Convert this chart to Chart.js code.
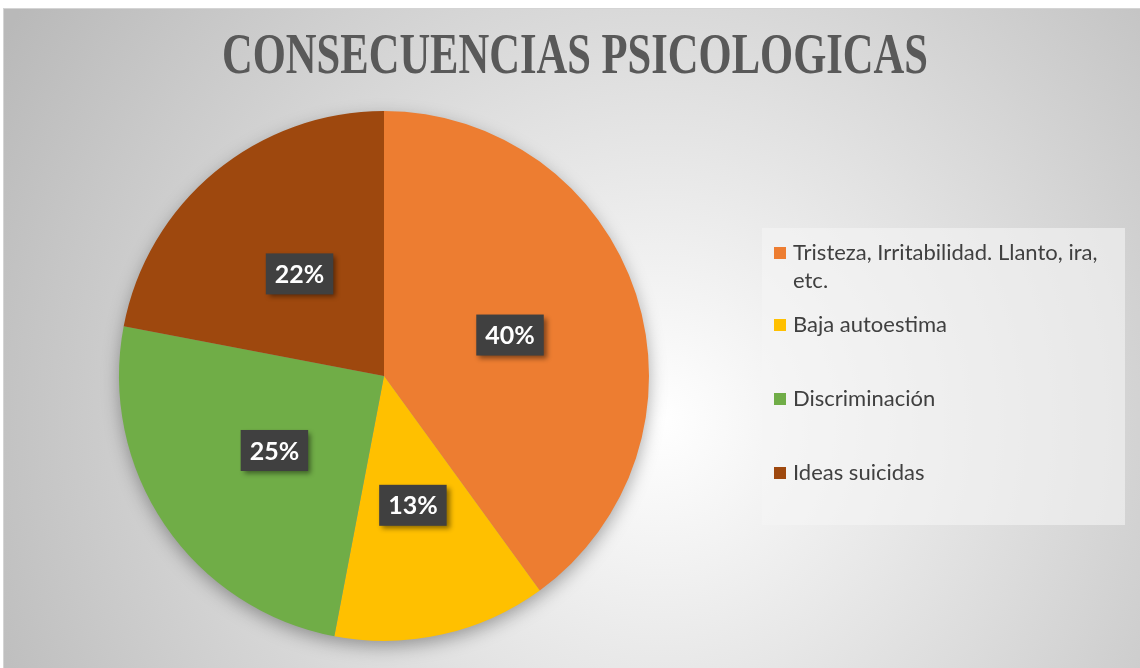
<!DOCTYPE html>
<html>
<head>
<meta charset="utf-8">
<script src="https://cdn.jsdelivr.net/npm/chart.js@4.4.1/dist/chart.umd.min.js"></script>
<style>
  html, body { margin: 0; padding: 0; background: #fff; }
  #wrap { width: 1140px; height: 668px; }
</style>
</head>
<body>
<div id="wrap"><canvas id="pieChart" width="1140" height="668"></canvas></div>
<script>
// data
const chartTitle = 'CONSECUENCIAS PSICOLOGICAS';
const labels = ['Tristeza, Irritabilidad. Llanto, ira, etc.', 'Baja autoestima', 'Discriminación', 'Ideas suicidas'];
const values = [40, 13, 25, 22];
const colors = ['#ED7D31', '#FFC000', '#70AD47', '#9E480E'];

/**
 * background, title, shadow, labels and legend
 */
const decorPlugin = {
    id: 'decor',
    beforeDraw(chart) {
        const ctx = chart.ctx;
        ctx.save();
        ctx.fillStyle = '#fff';
        ctx.fillRect(0, 0, chart.width, chart.height);
        const g = ctx.createRadialGradient(660, 420, 0, 660, 420, 760);
        g.addColorStop(0, '#ffffff');
        g.addColorStop(1, '#b9b9b9');
        ctx.fillStyle = g;
        ctx.fillRect(3, 8, chart.width - 3, chart.height - 8);
        ctx.strokeStyle = '#d4d4d4';
        ctx.lineWidth = 1;
        ctx.strokeRect(3.5, 8.5, chart.width, chart.height);

        // title, narrow like the original
        ctx.font = 'bold 56px "Liberation Serif"';
        ctx.fillStyle = '#595959';
        ctx.textBaseline = 'alphabetic';
        ctx.textAlign = 'left';
        const w = ctx.measureText(chartTitle).width;
        const target = 706;
        ctx.translate(222, 73);
        ctx.scale(target / w, 1);
        ctx.fillText(chartTitle, 0, 0);
        ctx.restore();
    },
    beforeDatasetsDraw(chart) {
        const ctx = chart.ctx;
        const arc = chart.getDatasetMeta(0).data[0];
        const p = arc.getProps(['x', 'y', 'outerRadius'], true);
        ctx.save();
        ctx.shadowColor = 'rgba(0,0,0,0.35)';
        ctx.shadowBlur = 18;
        ctx.shadowOffsetY = 6;
        ctx.fillStyle = '#999';
        ctx.beginPath();
        ctx.arc(p.x, p.y, p.outerRadius - 1, 0, Math.PI * 2);
        ctx.fill();
        ctx.restore();
    },
    afterDatasetsDraw(chart) {
        const ctx = chart.ctx;
        const data = chart.data.datasets[0].data;
        const total = data.reduce((a, b) => a + b, 0);
        ctx.save();
        ctx.font = 'bold 25px Lato';
        ctx.textAlign = 'center';
        ctx.textBaseline = 'middle';
        chart.getDatasetMeta(0).data.forEach((arc, i) => {
            const pos = arc.tooltipPosition(true);
            const txt = Math.round(data[i] / total * 100) + '%';
            const bw = ctx.measureText(txt).width + 18;
            const bh = 41;
            ctx.save();
            ctx.shadowColor = 'rgba(0,0,0,0.45)';
            ctx.shadowBlur = 5;
            ctx.shadowOffsetX = 3;
            ctx.shadowOffsetY = 3;
            ctx.fillStyle = '#404040';
            ctx.fillRect(pos.x - bw / 2, pos.y - bh / 2, bw, bh);
            ctx.restore();
            ctx.fillStyle = '#fff';
            ctx.fillText(txt, pos.x, pos.y + 1);
        });
        ctx.restore();
    },
    afterDraw(chart) {
        const ctx = chart.ctx;
        const ds = chart.data.datasets[0];
        ctx.save();
        ctx.fillStyle = 'rgba(245,245,245,0.6)';
        ctx.fillRect(762, 228, 363, 297);
        ctx.font = '22px Lato';
        ctx.textAlign = 'left';
        ctx.textBaseline = 'middle';
        const maxW = 325;
        const ys = [253, 325, 399, 473];
        chart.data.labels.forEach((lab, i) => {
            // wrap text
            const words = lab.split(' ');
            const lines = [];
            let cur = '';
            words.forEach(wd => {
                const t = cur ? cur + ' ' + wd : wd;
                if (ctx.measureText(t).width > maxW && cur) {
                    lines.push(cur);
                    cur = wd;
                } else {
                    cur = t;
                }
            });
            lines.push(cur);
            ctx.fillStyle = ds.backgroundColor[i];
            ctx.fillRect(774, ys[i] - 6, 12, 12);
            ctx.fillStyle = '#404040';
            lines.forEach((ln, k) => ctx.fillText(ln, 793, ys[i] + k * 28));
        });
        ctx.restore();
    }
};

const configPieChart = {
    type: 'pie',
    data: {
        labels: labels,
        datasets: [{
            data: values,
            backgroundColor: colors,
            borderWidth: 0
        }]
    },
    options: {
        responsive: false,
        animation: false,
        rotation: 0,
        layout: {
            padding: { left: 119, right: 491, top: 111, bottom: 27 }
        },
        plugins: {
            legend: { display: false },
            title: { display: false },
            tooltip: { enabled: false }
        }
    },
    plugins: [decorPlugin]
};

var pieChart = new Chart(document.getElementById('pieChart'), configPieChart);
</script>
</body>
</html>
